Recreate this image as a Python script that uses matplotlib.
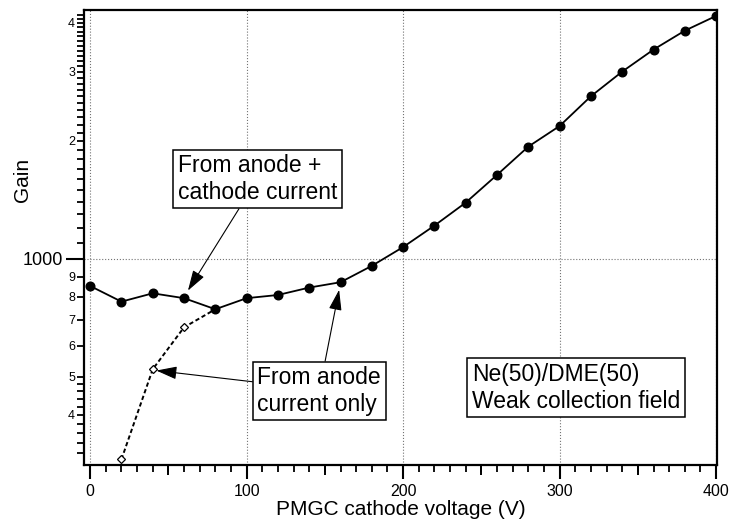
import numpy as np
import matplotlib
matplotlib.use("Agg")
import matplotlib.pyplot as plt
from matplotlib.ticker import FixedLocator, FuncFormatter, MultipleLocator

plt.rcParams['font.family'] = ['Liberation Sans', 'DejaVu Sans']

# gain vs. cathode voltage, Ne(50)/DME(50)
voltage = [0, 20, 40, 60, 80, 100, 120, 140, 160, 180, 200,
           220, 240, 260, 280, 300, 320, 340, 360, 380, 400]
gain_total = [853, 778, 817, 794, 744, 794, 809, 845, 872, 960, 1072,
              1216, 1392, 1638, 1934, 2183, 2600, 3005, 3420, 3822, 4168]

# anode-only estimate, joins the main curve at 80 V
voltage_anode = [20, 40, 60, 80]
gain_anode = [308, 523, 669, 744]

small_labels = {400: '4', 500: '5', 600: '6', 700: '7', 800: '8', 900: '9',
                2000: '2', 3000: '3', 4000: '4'}

fig = plt.figure(figsize=(7.32, 5.24), dpi=100)
ax = fig.add_axes([0.1148, 0.1126, 0.8648, 0.8683])

ax.plot(voltage_anode, gain_anode, color='k', lw=1.4, ls=(0, (2.2, 1.4)),
        marker='D', ms=4.5, mfc='white', mec='k', mew=0.9, zorder=3)
ax.plot(voltage, gain_total, color='k', lw=1.3, marker='o', ms=6.2,
        mfc='k', mec='k', zorder=4)

ax.set_yscale('log')
ax.set_xlim(-3.9, 400.6)
ax.set_ylim(298, 4315)

# x ticks: long at 100s, medium at 50s, short every 10
ax.xaxis.set_major_locator(MultipleLocator(100))
ax.xaxis.set_minor_locator(MultipleLocator(10))
ax.tick_params(axis='x', which='major', direction='out', length=10, width=1.5,
               labelsize=11.5, pad=4)
ax.tick_params(axis='x', which='minor', direction='out', length=5, width=1.3)
sec = ax.secondary_xaxis('bottom')
sec.set_xticks([50, 150, 250, 350])
sec.tick_params(direction='out', length=7.5, width=1.4, labelbottom=False)
sec.spines['bottom'].set_visible(False)

# y ticks: only 1000 is a full label, the rest are small mantissa digits
minor_y = (list(range(320, 500, 20)) + list(range(500, 1000, 100)) +
           list(range(1100, 4300, 100)))
ax.yaxis.set_major_locator(FixedLocator([1000]))
ax.yaxis.set_major_formatter(FuncFormatter(lambda v, p: '1000'))
ax.yaxis.set_minor_locator(FixedLocator(minor_y))
ax.yaxis.set_minor_formatter(FuncFormatter(
    lambda v, p: small_labels.get(int(round(v)), '')))
ax.tick_params(axis='y', which='major', direction='out', length=13, width=1.5,
               labelsize=13, pad=2)
ax.tick_params(axis='y', which='minor', direction='out', length=5, width=1.3,
               labelsize=9, pad=1.5)

for side in ax.spines.values():
    side.set_linewidth(1.6)

ax.grid(True, which='major', ls=':', color='0.45', lw=0.8)

ax.set_xlabel('PMGC cathode voltage (V)', fontsize=15)
ax.set_ylabel('Gain', fontsize=15)
ax.xaxis.set_label_coords(0.5, -0.077)
ax.yaxis.set_label_coords(-0.082, 0.626)

box = dict(boxstyle='square,pad=0.2', fc='white', ec='k', lw=1.1)
head = dict(arrowstyle='-|>,head_length=0.7,head_width=0.22', color='k',
            lw=0.8, shrinkA=0, shrinkB=0, mutation_scale=18)

ax.annotate('From anode +\ncathode current', xy=(62.5, 830), xytext=(107, 1600),
            fontsize=16.5, ha='center', va='center', multialignment='left',
            bbox=box, arrowprops=head, zorder=6)
ax.annotate('From anode\ncurrent only', xy=(159.1, 834), xytext=(146.4, 460),
            fontsize=16.5, ha='center', va='center', multialignment='left',
            bbox=box, arrowprops=head, zorder=6)
ax.annotate('', xy=(42.3, 519), xytext=(103.7, 486),
            arrowprops=head, zorder=5)
ax.text(310.4, 469, 'Ne(50)/DME(50)\nWeak collection field', fontsize=16.5,
        ha='center', va='center', multialignment='left', bbox=box, zorder=6)

fig.savefig('out.png', dpi=100)
